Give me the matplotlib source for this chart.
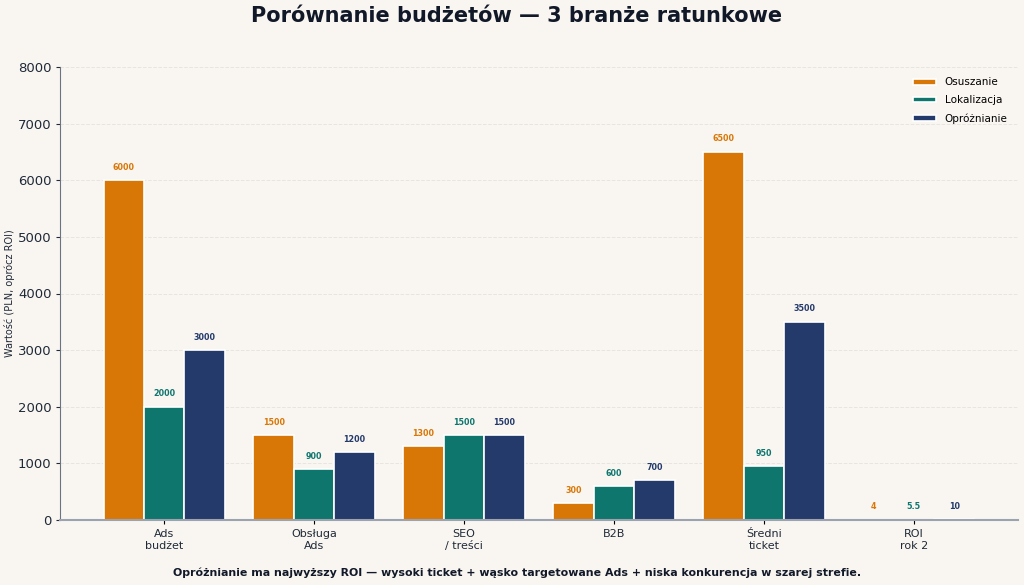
import matplotlib
matplotlib.use("Agg")
import matplotlib.pyplot as plt
import numpy as np

categories = ["Ads\nbudżet", "Obsługa\nAds", "SEO\n/ treści", "B2B", "Średni\nticket", "ROI\nrok 2"]
series_names = ["Osuszanie", "Lokalizacja", "Opróżnianie"]
osuszanie = [6000, 1500, 1300, 300, 6500, 4]
lokalizacja = [2000, 900, 1500, 600, 950, 5.5]
oproznianie = [3000, 1200, 1500, 700, 3500, 10]
labels_os = ["6000", "1500", "1300", "300", "6500", "4"]
labels_lo = ["2000", "900", "1500", "600", "950", "5.5"]
labels_op = ["3000", "1200", "1500", "700", "3500", "10"]
colors = ["#d97706", "#0f766e", "#243a6b"]

bg = "#f9f6f2"
fig = plt.figure(figsize=(10.24, 5.85), dpi=100, facecolor=bg)
ax = fig.add_axes([60/1024, 1-520/585, (1018-60)/1024, (520-67)/585])
ax.set_facecolor(bg)

x = np.arange(len(categories))
w = 0.27
data = [osuszanie, lokalizacja, oproznianie]
lbls = [labels_os, labels_lo, labels_op]
for i, (vals, name, col, lb) in enumerate(zip(data, series_names, colors, lbls)):
    pos = x + (i - 1) * w
    ax.bar(pos, vals, width=w, color=col, edgecolor="white", linewidth=1.2, label=name, zorder=2)
    for p, v, t in zip(pos, vals, lb):
        ax.text(p, v + 150, t, ha="center", va="bottom", fontsize=5.8, fontweight="bold", color=col)

ax.set_ylim(0, 8000)
ax.set_yticks(range(0, 8001, 1000))
ax.set_xticks(x)
ax.set_xticklabels(categories, fontsize=8, color="#1f2937")
ax.tick_params(axis="y", labelsize=9.5, colors="#1f2937", length=3, pad=3)
ax.tick_params(axis="x", length=3)
ax.set_ylabel("Wartość (PLN, oprócz ROI)", fontsize=7, color="#1f2937")
ax.yaxis.set_label_coords(-0.047, 0.5)
ax.grid(axis="y", linestyle="--", color="#e8e4df", linewidth=0.7, zorder=0)
ax.set_axisbelow(True)
for s in ["top", "right"]:
    ax.spines[s].set_visible(False)
ax.spines["left"].set_color("#6b7280")
ax.spines["bottom"].set_color("#9ca3af")
ax.spines["bottom"].set_linewidth(1.5)
ax.spines["bottom"].set_zorder(4)

ax.legend(loc="upper right", frameon=False, fontsize=7.5, labelspacing=0.75,
          handlelength=2.2, handleheight=0.5, borderaxespad=0.6)

fig.text(517/1024, 1-16/585, "Porównanie budżetów — 3 branże ratunkowe", ha="center", va="center",
         fontsize=15, fontweight="bold", color="#111827")
fig.text(517.5/1024, 1-573/585, "Opróżnianie ma najwyższy ROI — wysoki ticket + wąsko targetowane Ads + niska konkurencja w szarej strefie.",
         ha="center", va="center", fontsize=7.9, fontweight="bold", color="#111827")

fig.savefig("out.png", dpi=100, facecolor=bg)
